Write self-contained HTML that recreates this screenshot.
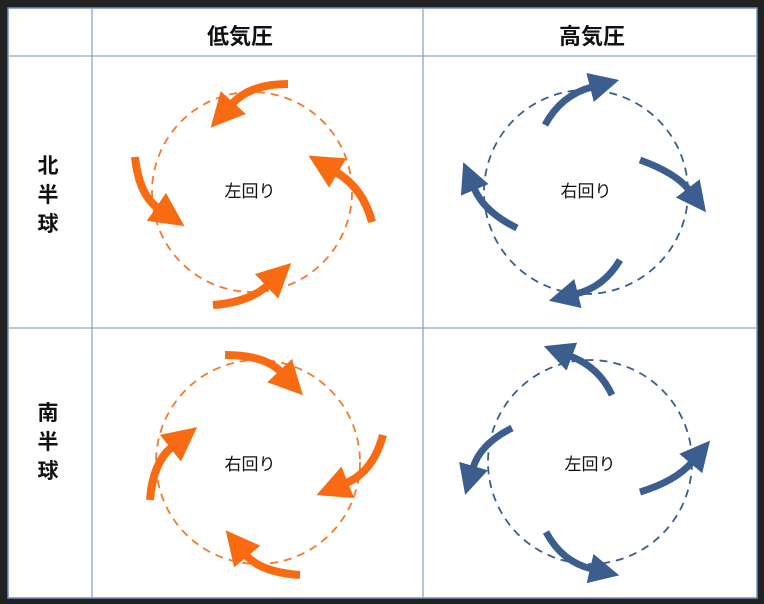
<!DOCTYPE html>
<html><head><meta charset="utf-8"><style>
html,body{margin:0;padding:0;background:#222;}
body{width:764px;height:604px;overflow:hidden;position:relative;font-family:"Liberation Sans","Noto Sans CJK JP",sans-serif;}
</style></head><body>
<svg width="764" height="604" viewBox="0 0 764 604" style="position:absolute;left:0;top:0">
<defs>
<marker id="ho" markerUnits="userSpaceOnUse" markerWidth="38" markerHeight="38" refX="2" refY="17" orient="auto"><path d="M0,0 L34,17 L0,34 Z" fill="#f96b12"/></marker>
<marker id="hb" markerUnits="userSpaceOnUse" markerWidth="34" markerHeight="34" refX="2" refY="15" orient="auto"><path d="M0,0 L30,15 L0,30 Z" fill="#3b5e8e"/></marker>
</defs>
<rect x="8" y="8" width="749" height="590" fill="#fff" stroke="#6f8fc8" stroke-width="1.5"/>
<g stroke="#8aa3d3" stroke-width="1.3">
<line x1="92" y1="8" x2="92" y2="598"/>
<line x1="423" y1="8" x2="423" y2="598"/>
<line x1="8" y1="56" x2="757" y2="56"/>
<line x1="8" y1="328" x2="757" y2="328"/>
</g>
<g font-weight="bold" font-size="22" fill="#111" text-anchor="middle">
<text x="240" y="44">低気圧</text>
<text x="592" y="44">高気圧</text>
</g>
<g font-weight="bold" font-size="21" fill="#111" text-anchor="middle">
<text x="48" y="173">北</text><text x="48" y="202">半</text><text x="48" y="231">球</text>
<text x="48" y="420">南</text><text x="48" y="449">半</text><text x="48" y="478">球</text>
</g>
<g font-size="17" fill="#111" text-anchor="middle">
<text x="250" y="197">左回り</text>
<text x="586" y="197">右回り</text>
<text x="250" y="470">右回り</text>
<text x="590" y="470">左回り</text>
</g>
<g fill="none" stroke-dasharray="8,6" stroke-width="1.8">
<circle cx="252" cy="192" r="100" stroke="#f47a2c"/>
<circle cx="586" cy="192" r="102" stroke="#3b5e8e"/>
<circle cx="258" cy="462" r="102" stroke="#f47a2c"/>
<circle cx="590" cy="462" r="102" stroke="#3b5e8e"/>
</g>
<g fill="none" stroke="#f96b12" stroke-width="8" marker-end="url(#ho)">
<path d="M288,84 Q250,84 232,104"/>
<path d="M135,157 Q139,195 158,208"/>
<path d="M213,305 Q250,302 268,285"/>
<path d="M372,222 Q363,188 336,172"/>
<path d="M225,355 Q265,355 281,372"/>
<path d="M383,435 Q373,472 346,483"/>
<path d="M300,575 Q260,572 246,555"/>
<path d="M150,500 Q153,462 172,447"/>
</g>
<g fill="none" stroke="#3b5e8e" stroke-width="7" marker-end="url(#hb)">
<path d="M545,125 Q561,95 592,87"/>
<path d="M640,160 Q676,173 689,190"/>
<path d="M620,260 Q604,287 576,294"/>
<path d="M517,228 Q484,212 474,188"/>
<path d="M612,395 Q599,367 570,356"/>
<path d="M640,492 Q676,481 692,462"/>
<path d="M546,532 Q562,562 592,569"/>
<path d="M512,428 Q480,444 473,468"/>
</g>
</svg>
</body></html>
